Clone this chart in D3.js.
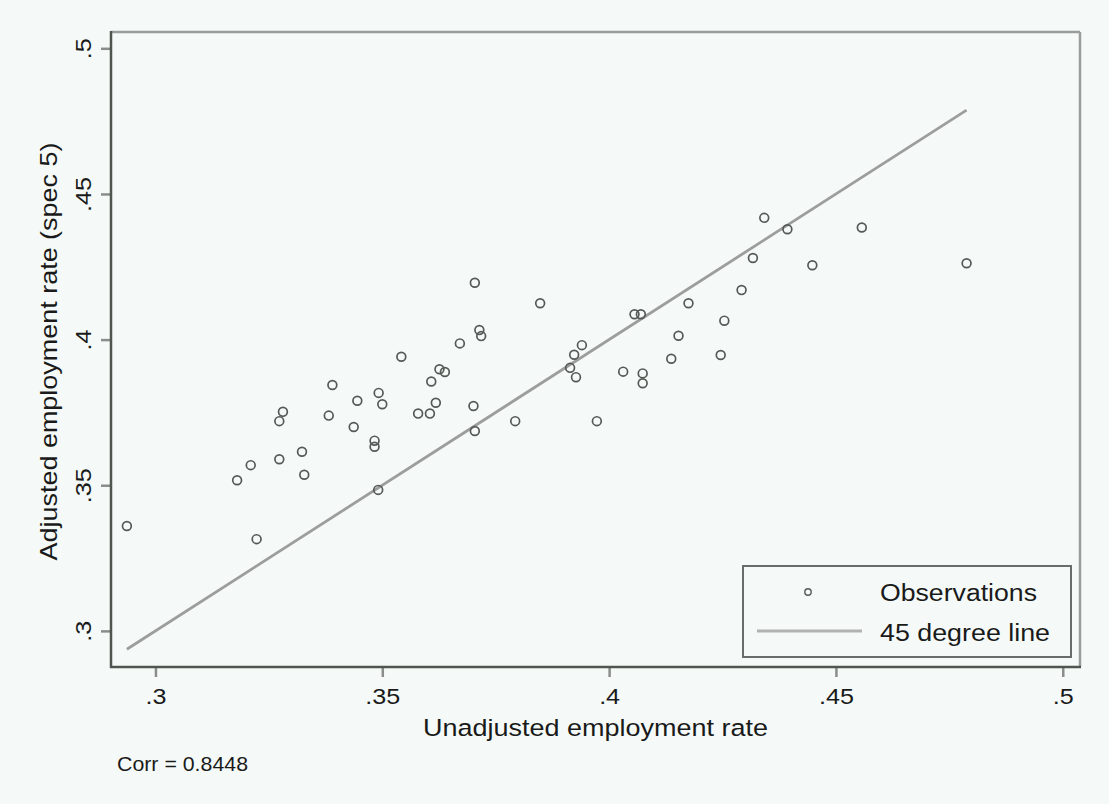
<!DOCTYPE html>
<html>
<head>
<meta charset="utf-8">
<script src="https://cdn.jsdelivr.net/npm/d3@7"></script>
<style>
  html, body { margin: 0; padding: 0; background: #f5faf8; }
  svg { display: block; }
  text { font-family: "Liberation Sans", Arial, sans-serif; fill: #1a1a1a; }
</style>
</head>
<body>
<svg id="chart" width="1109" height="804"></svg>
<script>
// ---- data ----
const unadjusted = [
  0.2937, 0.3223, 0.3180, 0.3210, 0.3273, 0.3328, 0.3323, 0.3273, 0.3281, 0.3382,
  0.3390, 0.3437, 0.3445, 0.3483, 0.3483, 0.3491, 0.3492, 0.3500, 0.3542, 0.3579,
  0.3605, 0.3618, 0.3608, 0.3626, 0.3638, 0.3704, 0.3848, 0.3714, 0.3718, 0.3671,
  0.3701, 0.3704, 0.3793, 0.3940, 0.3923, 0.3914, 0.3927, 0.3973, 0.4031, 0.4074,
  0.4074, 0.4056, 0.4070, 0.4175, 0.4153, 0.4137, 0.4342, 0.4393, 0.4557, 0.4788,
  0.4448, 0.4317, 0.4292, 0.4254, 0.4246
];
const adjusted = [
  0.3360, 0.3315, 0.3517, 0.3569, 0.3589, 0.3536, 0.3615, 0.3720, 0.3752, 0.3739,
  0.3844, 0.3700, 0.3790, 0.3653, 0.3632, 0.3484, 0.3817, 0.3778, 0.3941, 0.3746,
  0.3746, 0.3783, 0.3856, 0.3898, 0.3889, 0.4195, 0.4125, 0.4033, 0.4012, 0.3987,
  0.3772, 0.3686, 0.3720, 0.3981, 0.3948, 0.3903, 0.3871, 0.3720, 0.3890, 0.3884,
  0.3850, 0.4087, 0.4087, 0.4125, 0.4013, 0.3934, 0.4418, 0.4379, 0.4385, 0.4262,
  0.4255, 0.4280, 0.4170, 0.4065, 0.3947
];
const xTicks = [0.3, 0.35, 0.4, 0.45, 0.5];
const yTicks = [0.3, 0.35, 0.4, 0.45, 0.5];
const xTitle = "Unadjusted employment rate";
const yTitle = "Adjusted employment rate (spec 5)";
const legendLabels = ["Observations", "45 degree line"];
const corrText = "Corr = 0.8448";

// ---- layout ----
const plot = { left: 111, right: 1080, top: 32, bottom: 667 };
const WIDE = 1.17; // horizontal widening of the reference lettering
const svg = d3.select("#chart");
svg.append("rect").attr("width", 1109).attr("height", 804).attr("fill", "#f5faf8");

const x = d3.scaleLinear().domain([0.2902, 0.5038]).range([plot.left, plot.right]);
const y = d3.scaleLinear().domain([0.2876, 0.5056]).range([plot.bottom, plot.top]);
const fmt = v => d3.format(".2~f")(v).replace(/^0\./, ".");

function widen(sel) {
  sel.each(function () {
    const w = this.getComputedTextLength();
    d3.select(this).attr("textLength", w * WIDE).attr("lengthAdjust", "spacingAndGlyphs");
  });
}

// frame: top and right lighter
svg.append("line").attr("x1", plot.left).attr("x2", plot.right).attr("y1", plot.top).attr("y2", plot.top)
  .attr("stroke", "#9a9d9b").attr("stroke-width", 2.5);
svg.append("line").attr("x1", plot.right).attr("x2", plot.right).attr("y1", plot.top).attr("y2", plot.bottom)
  .attr("stroke", "#9a9d9b").attr("stroke-width", 2.5);

// x axis
const xAxis = svg.append("g").attr("transform", `translate(0,${plot.bottom})`)
  .call(d3.axisBottom(x).tickValues(xTicks).tickSize(10).tickFormat(fmt));
xAxis.select(".domain").remove();
xAxis.selectAll(".tick line").attr("stroke", "#8a8d8b").attr("stroke-width", 2.5);
xAxis.selectAll(".tick text").attr("y", 36.5).attr("dy", 0)
  .style("font-size", "21.5px").style("font-family", "Liberation Sans").attr("fill", "#1a1a1a")
  .call(widen);

// y axis
const yAxis = svg.append("g").attr("transform", `translate(${plot.left},0)`)
  .call(d3.axisLeft(y).tickValues(yTicks).tickSize(10).tickFormat(fmt));
yAxis.select(".domain").remove();
yAxis.selectAll(".tick line").attr("stroke", "#8a8d8b").attr("stroke-width", 2.5);
yAxis.selectAll(".tick text")
  .attr("x", null).attr("dy", 0)
  .attr("text-anchor", "middle")
  .attr("transform", "translate(-20.5,0) rotate(-90)")
  .style("font-size", "21.5px").style("font-family", "Liberation Sans").attr("fill", "#1a1a1a")
  .call(widen);

// left and bottom axis lines (darker)
svg.append("line").attr("x1", plot.left).attr("x2", plot.left).attr("y1", plot.top - 1).attr("y2", plot.bottom + 1)
  .attr("stroke", "#4f554f").attr("stroke-width", 2.5);
svg.append("line").attr("x1", plot.left - 1).attr("x2", plot.right + 1).attr("y1", plot.bottom).attr("y2", plot.bottom)
  .attr("stroke", "#4f554f").attr("stroke-width", 2.5);

// 45 degree line
const lo = d3.min(unadjusted), hi = d3.max(unadjusted);
svg.append("line")
  .attr("x1", x(lo)).attr("y1", y(lo)).attr("x2", x(hi)).attr("y2", y(hi))
  .attr("stroke", "#9c9e9d").attr("stroke-width", 2.8);

// observations
const pts = unadjusted.map((u, i) => ({ u, a: adjusted[i] }));
svg.append("g").selectAll("circle").data(pts).join("circle")
  .attr("cx", d => x(d.u)).attr("cy", d => y(d.a)).attr("r", 4.4)
  .attr("fill", "none").attr("stroke", "#555a57").attr("stroke-width", 1.7);

// axis titles
svg.append("text").attr("x", (plot.left + plot.right) / 2).attr("y", 735.5)
  .attr("text-anchor", "middle").style("font-size", "24.5px")
  .attr("textLength", 345).attr("lengthAdjust", "spacingAndGlyphs").text(xTitle);
svg.append("text").attr("transform", `translate(56.5,${(plot.top + plot.bottom) / 2 + 2}) rotate(-90)`)
  .attr("text-anchor", "middle").style("font-size", "24.5px")
  .attr("textLength", 418).attr("lengthAdjust", "spacingAndGlyphs").text(yTitle);

// legend
const lg = svg.append("g");
lg.append("rect").attr("x", 743).attr("y", 566).attr("width", 328).attr("height", 91)
  .attr("fill", "#f5faf8").attr("stroke", "#6a6e6b").attr("stroke-width", 2);
lg.append("circle").attr("cx", 808).attr("cy", 592).attr("r", 3.2)
  .attr("fill", "none").attr("stroke", "#555a57").attr("stroke-width", 1.4);
lg.append("line").attr("x1", 757).attr("x2", 862).attr("y1", 631).attr("y2", 631)
  .attr("stroke", "#b0b2b1").attr("stroke-width", 3);
lg.append("text").attr("x", 880).attr("y", 600.5).style("font-size", "23.5px")
  .attr("textLength", 157).attr("lengthAdjust", "spacingAndGlyphs").text(legendLabels[0]);
lg.append("text").attr("x", 880).attr("y", 640.5).style("font-size", "23.5px")
  .attr("textLength", 170).attr("lengthAdjust", "spacingAndGlyphs").text(legendLabels[1]);

// correlation note
svg.append("text").attr("x", 117).attr("y", 770.5).style("font-size", "20.5px")
  .attr("textLength", 131).attr("lengthAdjust", "spacingAndGlyphs").text(corrText);
</script>
</body>
</html>
